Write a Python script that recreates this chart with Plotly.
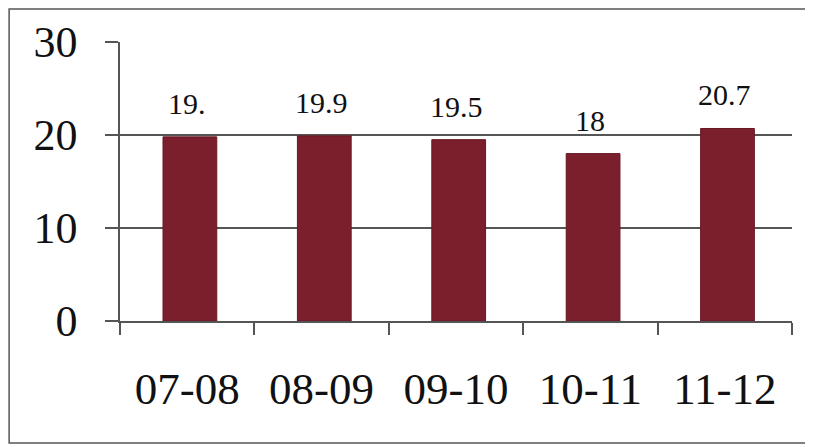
import plotly.graph_objects as go

categories = ["07-08", "08-09", "09-10", "10-11", "11-12"]
values = [19.8, 19.9, 19.5, 18, 20.7]
value_labels = ["19.", "19.9", "19.5", "18", "20.7"]
y_ticks = [0, 10, 20, 30]

BAR = "#7b1f2c"
GRID = "#555555"
FONT = "Liberation Serif, Times New Roman, serif"

fig = go.Figure()
fig.add_trace(go.Bar(
    x=categories, y=values,
    width=0.4, offset=-0.18,
    marker=dict(color=BAR, line=dict(color="#6a1824", width=1)),
    hoverinfo="skip",
))

for c, v, t in zip(categories, values, value_labels):
    fig.add_annotation(x=c, y=v, text=t, showarrow=False, yanchor="bottom",
                       yshift=15, font=dict(family=FONT, size=30, color="#111111"))

# outer border around the chart
fig.add_shape(type="rect", xref="paper", yref="paper",
              x0=-0.165, x1=1.06, y0=-0.437, y1=1.118,
              line=dict(color="#555555", width=1.5), fillcolor="rgba(0,0,0,0)")

fig.update_layout(
    width=813, height=447,
    margin=dict(l=112, r=29, t=34, b=134, autoexpand=False),
    paper_bgcolor="white", plot_bgcolor="white",
    showlegend=False,
    font=dict(family=FONT, color="#111111"),
)
fig.update_yaxes(
    range=[0, 30], tickvals=y_ticks, ticktext=[str(v) for v in y_ticks],
    showgrid=True, gridcolor=GRID, gridwidth=1.5,
    showline=True, linecolor=GRID, linewidth=1.5,
    ticks="outside", ticklen=13, tickcolor=GRID, tickwidth=1.5,
    ticklabelstandoff=19, automargin=False,
    tickfont=dict(family=FONT, size=44, color="#111111"),
    zeroline=False,
)
fig.update_xaxes(
    type="category",
    showline=True, linecolor=GRID, linewidth=1.5,
    ticks="outside", tickson="boundaries", ticklen=12, tickcolor=GRID, tickwidth=1.5,
    ticklabelstandoff=27, automargin=False,
    tickfont=dict(family=FONT, size=45, color="#111111"),
    showgrid=False,
)

fig.write_html("out.html")
